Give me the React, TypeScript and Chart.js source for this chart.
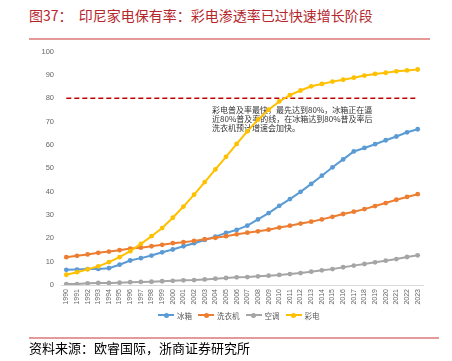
import React, { useEffect, useRef } from "react";
import { Chart, registerables } from "chart.js";

Chart.register(...registerables);

const years = [
  "1990", "1991", "1992", "1993", "1994", "1995", "1996", "1997", "1998", "1999",
  "2000", "2001", "2002", "2003", "2004", "2005", "2006", "2007", "2008", "2009",
  "2010", "2011", "2012", "2013", "2014", "2015", "2016", "2017", "2018", "2019",
  "2020", "2021", "2022", "2023",
];
const fridge = [6.5, 6.6, 6.8, 6.9, 7.2, 8.7, 10.5, 11.5, 12.6, 14.0, 15.2, 16.6, 17.9, 19.3, 20.7, 22.3, 23.6, 25.4, 28.1, 30.8, 33.9, 36.8, 39.9, 43.3, 46.8, 50.4, 53.8, 57.2, 58.7, 60.3, 62.0, 63.6, 65.4, 66.7];
const washer = [11.9, 12.5, 13.1, 13.8, 14.3, 14.9, 15.6, 16.0, 16.6, 17.2, 17.9, 18.3, 18.9, 19.6, 20.2, 20.9, 21.7, 22.4, 23.0, 23.7, 24.6, 25.4, 26.3, 27.1, 28.1, 29.2, 30.4, 31.4, 32.5, 33.8, 35.1, 36.5, 37.7, 38.9];
const aircon = [0.4, 0.4, 0.7, 0.9, 0.9, 1.0, 1.2, 1.3, 1.4, 1.6, 1.8, 2.0, 2.1, 2.4, 2.7, 3.0, 3.3, 3.4, 3.7, 4.0, 4.3, 4.7, 5.1, 5.7, 6.3, 6.8, 7.6, 8.3, 9.0, 9.7, 10.4, 11.1, 12.0, 12.7];
const colorTv = [4.4, 5.5, 6.7, 8.0, 9.8, 11.9, 14.5, 17.6, 20.9, 24.4, 28.8, 33.6, 38.7, 44.1, 49.5, 54.9, 60.4, 65.8, 70.8, 75.1, 78.6, 81.3, 83.3, 85.1, 86.1, 87.1, 87.9, 88.8, 89.7, 90.4, 90.9, 91.5, 91.9, 92.3];
const refLevel = 80;
const seriesNames = ["冰箱", "洗衣机", "空调", "彩电"];
const seriesColors = ["#5b9bd5", "#ed7d31", "#a5a5a5", "#ffc000"];
const noteLines = [
  "彩电普及率最快，最先达到80%，冰箱正在逼",
  "近80%普及率的线，在冰箱达到80%普及率后",
  "洗衣机预计增速会加快。",
];
const titleText = "图37：  印尼家电保有率：彩电渗透率已过快速增长阶段";
const sourceText = "资料来源：欧睿国际，浙商证券研究所";

const CJK = '"Noto Sans CJK SC", "Noto Sans", sans-serif';

export default function App() {
  const ref = useRef<HTMLCanvasElement | null>(null);

  useEffect(() => {
    if (!ref.current) return;
    const mk = (i: number, data: number[], order: number) => ({
      label: seriesNames[i],
      data,
      borderColor: seriesColors[i],
      backgroundColor: seriesColors[i],
      borderWidth: 2,
      pointRadius: 2.4,
      pointBorderWidth: 0,
      pointBackgroundColor: seriesColors[i],
      tension: 0,
      order,
    });
    const notePlugin = {
      id: "note",
      beforeDatasetsDraw(chart: any) {
        const ctx = chart.ctx;
        ctx.save();
        ctx.font = `8px ${CJK}`;
        ctx.fillStyle = "#333";
        ctx.textBaseline = "middle";
        ctx.textAlign = "left";
        noteLines.forEach((t, k) => ctx.fillText(t, 212, 70 + k * 9));
        ctx.restore();
      },
    };
    const chart = new Chart(ref.current, {
      type: "line",
      data: {
        labels: years,
        datasets: [
          mk(0, fridge, 3),
          mk(1, washer, 2),
          mk(2, aircon, 1),
          mk(3, colorTv, 0),
          {
            label: "ref",
            data: years.map(() => refLevel),
            borderColor: "#c00000",
            borderWidth: 1.5,
            borderDash: [5, 3],
            pointRadius: 0,
            order: 4,
          } as any,
        ],
      },
      options: {
        responsive: false,
        animation: false,
        devicePixelRatio: 1,
        layout: { padding: { top: 10, right: 29, left: 0, bottom: 0 } },
        plugins: { legend: { display: false }, tooltip: { enabled: false } },
        scales: {
          x: {
            offset: true,
            grid: { display: false, drawTicks: false },
            border: { display: true, color: "#d9d9d9", width: 1 },
            ticks: {
              autoSkip: false,
              minRotation: 90,
              maxRotation: 90,
              padding: 4,
              color: "#666",
              font: { size: 7, family: "Liberation Sans, Arial, sans-serif" },
            },
            afterFit: (s: any) => {
              s.height = 25;
            },
          },
          y: {
            min: 0,
            max: 100,
            grid: { display: false, drawTicks: false },
            border: { display: false },
            ticks: {
              stepSize: 10,
              padding: 7,
              color: "#666",
              font: { size: 7.5, family: "Liberation Sans, Arial, sans-serif" },
            },
            afterFit: (s: any) => {
              s.width = 61;
            },
          },
        },
      },
      plugins: [notePlugin],
    });
    return () => chart.destroy();
  }, []);

  const legendItem = (i: number) => (
    <div key={i} style={{ display: "flex", alignItems: "center", marginRight: 6 }}>
      <div style={{ position: "relative", width: 16, height: 10 }}>
        <div style={{ position: "absolute", left: 0, top: 4, width: 16, height: 2, background: seriesColors[i] }} />
        <div style={{ position: "absolute", left: 5.5, top: 2.5, width: 5, height: 5, borderRadius: 3, background: seriesColors[i] }} />
      </div>
      <span style={{ marginLeft: 3, fontSize: 7.5, color: "#595959", fontFamily: CJK }}>{seriesNames[i]}</span>
    </div>
  );

  return (
    <div style={{ position: "absolute", left: 0, top: 0, width: 452, height: 361, background: "#fff", overflow: "hidden" }}>
      <div style={{ position: "absolute", left: 29, top: 6, fontSize: 14, lineHeight: "18px", color: "#b5262c", fontFamily: CJK, whiteSpace: "pre" }}>
        {titleText}
      </div>
      <div style={{ position: "absolute", left: 29, top: 38, width: 401, height: 2, background: "#e59a9a" }} />
      <canvas ref={ref} width={452} height={270} style={{ position: "absolute", left: 0, top: 40, width: 452, height: 270 }} />
      <div style={{ position: "absolute", left: 158, top: 309, height: 12, display: "flex", alignItems: "center" }}>
        {[0, 1, 2, 3].map(legendItem)}
      </div>
      <div style={{ position: "absolute", left: 29, top: 337, width: 410, height: 1.5, background: "#e59a9a" }} />
      <div style={{ position: "absolute", left: 29, top: 339, fontSize: 13, lineHeight: "17px", color: "#000", fontFamily: CJK }}>
        {sourceText}
      </div>
    </div>
  );
}
